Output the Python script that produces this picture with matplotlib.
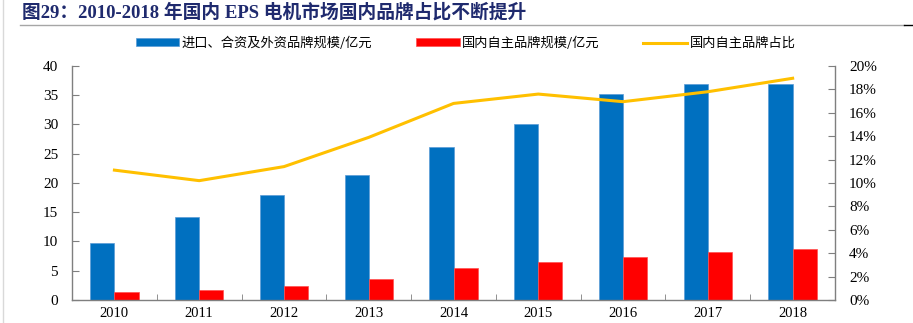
import numpy as np
import matplotlib
matplotlib.use('Agg')
import matplotlib.pyplot as plt
from matplotlib.lines import Line2D
from matplotlib.ticker import FuncFormatter

plt.rcParams['font.family'] = ['Liberation Serif', 'Noto Sans CJK SC']

# data
years = ['2010', '2011', '2012', '2013', '2014', '2015', '2016', '2017', '2018']
foreign_scale = [9.8, 14.2, 17.9, 21.4, 26.1, 30.1, 35.2, 36.9, 36.9]   # 进口、合资及外资品牌规模/亿元
domestic_scale = [1.3, 1.7, 2.4, 3.6, 5.4, 6.5, 7.3, 8.2, 8.7]        # 国内自主品牌规模/亿元
domestic_share = [11.1, 10.2, 11.4, 13.9, 16.8, 17.6, 16.95, 17.8, 18.95]  # 国内自主品牌占比 (%)

labels = ['进口、合资及外资品牌规模/亿元', '国内自主品牌规模/亿元', '国内自主品牌占比']
title = '图29：2010-2018 年国内 EPS 电机市场国内品牌占比不断提升'

blue = '#0070C0'
red = '#FF0000'
yellow = '#FFC000'
axis_grey = '#7F7F7F'

fig = plt.figure(figsize=(9.13, 3.23), dpi=100)
ax = fig.add_axes([0.0789, 0.0712, 0.8357, 0.7245])

ind = np.arange(len(years))
width = 0.285

bars1 = ax.bar(ind - width / 2, foreign_scale, width, color=blue, edgecolor='#5B9BD5', linewidth=0.5)
bars2 = ax.bar(ind + width / 2, domestic_scale, width, color=red, edgecolor='#FF5050', linewidth=0.5)

ax.set_xlim(-0.5, len(years) - 0.5)
ax.set_ylim(0, 40)
ax.set_yticks(np.arange(0, 41, 5))
ax.set_xticks(ind)
ax.set_xticklabels(years)
ax.set_xticks(np.arange(-0.5, len(years), 1), minor=True)
ax.tick_params(axis='x', which='major', length=0, pad=5, labelsize=10.5)
ax.tick_params(axis='x', which='minor', direction='in', length=4, color=axis_grey)
ax.tick_params(axis='y', direction='in', length=5, pad=10, labelsize=11, color=axis_grey)

ax2 = ax.twinx()
line, = ax2.plot(ind, domestic_share, color=yellow, linewidth=2.2)
ax2.set_ylim(0, 20)
ax2.set_yticks(np.arange(0, 21, 2))
ax2.yaxis.set_major_formatter(FuncFormatter(lambda v, p: '%d%%' % v))
ax2.tick_params(axis='y', direction='in', length=5, pad=10, labelsize=11, color=axis_grey)

for a in (ax, ax2):
    a.spines['top'].set_visible(False)
    for s in ('left', 'right', 'bottom'):
        a.spines[s].set_color(axis_grey)
        a.spines[s].set_linewidth(1.0)
ax.spines['right'].set_visible(False)
ax2.spines['left'].set_visible(False)
ax2.spines['bottom'].set_visible(False)

# legend across the top
fig.legend((bars1[0], bars2[0], line), labels, loc='center', bbox_to_anchor=(0.51, 0.866),
           ncol=3, frameon=False, handlelength=3.3, handleheight=0.55, handletextpad=0.2,
           columnspacing=3.3, prop={'family': ['Noto Sans CJK SC'], 'size': 9.5})

# title and the rule under it
fig.text(0.024, 0.963, title, fontsize=13.5, fontweight='bold', color='#1F2A6E',
         va='center', ha='left')
fig.add_artist(Line2D([0.022, 0.99], [0.922, 0.922], color='#A6A6A6', linewidth=1.0))
fig.add_artist(Line2D([0.99, 1.0], [0.922, 0.922], color='black', linewidth=1.0))
fig.add_artist(Line2D([0.003, 0.003], [0.0, 1.0], color='#D9D9D9', linewidth=1.0))

fig.savefig('out.png', dpi=100)
